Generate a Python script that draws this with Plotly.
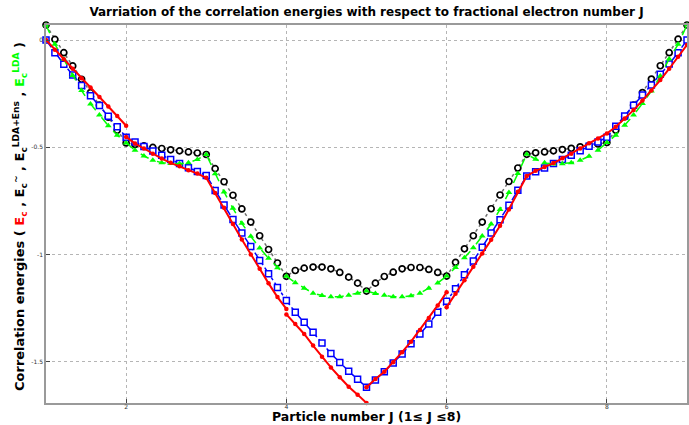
import numpy as np
import plotly.graph_objects as go

# Sampling grid: fractional particle number, 9 steps per unit between 1 and 9
J = np.linspace(1, 9, 73)

x_ticks = [2, 4, 6, 8]
x_tick_labels = ["2", "4", "6", "8"]
y_ticks = [0, -0.5, -1, -1.5]
y_tick_labels = ["0", "-0.5", "-1", "-1.5"]

# E_c^{LDA+Ens} (black circles)
E_lda_ens = [
    0.070, 0.003, -0.059, -0.121, -0.183, -0.245, -0.304, -0.360, -0.421, -0.480,
    -0.487, -0.494, -0.501, -0.506, -0.512, -0.517, -0.522, -0.527, -0.534,
    -0.600, -0.661, -0.724, -0.788, -0.849, -0.913, -0.977, -1.040, -1.102,
    -1.075, -1.064, -1.059, -1.059, -1.067, -1.084, -1.106, -1.134, -1.171,
    -1.134, -1.103, -1.083, -1.067, -1.061, -1.061, -1.070, -1.084, -1.101,
    -1.037, -0.974, -0.913, -0.849, -0.787, -0.723, -0.660, -0.597, -0.533,
    -0.526, -0.522, -0.517, -0.511, -0.505, -0.498, -0.492, -0.485, -0.478,
    -0.421, -0.358, -0.304, -0.245, -0.182, -0.120, -0.059, 0.004, 0.070,
]

# tilde E_c (blue squares)
E_tilde = [
    0.000, -0.059, -0.113, -0.163, -0.212, -0.260, -0.306, -0.356, -0.404, -0.453,
    -0.476, -0.497, -0.518, -0.537, -0.557, -0.576, -0.596, -0.613, -0.632,
    -0.702, -0.770, -0.837, -0.900, -0.963, -1.028, -1.090, -1.154, -1.215,
    -1.270, -1.316, -1.363, -1.413, -1.462, -1.504, -1.545, -1.582, -1.620,
    -1.586, -1.547, -1.506, -1.464, -1.417, -1.371, -1.324, -1.270, -1.218,
    -1.160, -1.095, -1.031, -0.966, -0.900, -0.838, -0.771, -0.701, -0.634,
    -0.615, -0.597, -0.576, -0.557, -0.537, -0.517, -0.495, -0.476, -0.453,
    -0.402, -0.355, -0.304, -0.257, -0.210, -0.160, -0.112, -0.059, 0.000,
]

# E_c^{LDA} (green triangles)
E_lda = [
    0.070, -0.020, -0.090, -0.165, -0.236, -0.298, -0.350, -0.400, -0.444, -0.480,
    -0.514, -0.541, -0.561, -0.572, -0.576, -0.577, -0.572, -0.557, -0.534,
    -0.624, -0.709, -0.785, -0.855, -0.915, -0.970, -1.018, -1.062, -1.102,
    -1.132, -1.158, -1.181, -1.192, -1.198, -1.198, -1.190, -1.181, -1.171,
    -1.182, -1.190, -1.198, -1.198, -1.193, -1.181, -1.158, -1.133, -1.101,
    -1.061, -1.016, -0.969, -0.914, -0.858, -0.790, -0.711, -0.623, -0.533,
    -0.556, -0.573, -0.578, -0.577, -0.573, -0.561, -0.542, -0.514, -0.478,
    -0.444, -0.397, -0.350, -0.296, -0.238, -0.168, -0.088, -0.020, 0.070,
]

# Exact E_c (red), piecewise: (first grid index, values)
E_exact_segments = [
    (0, [0.000, -0.045, -0.090, -0.134, -0.178, -0.222, -0.266, -0.310, -0.355, -0.400]),
    (9, [-0.452, -0.483, -0.506, -0.530, -0.553, -0.573, -0.589, -0.607, -0.623, -0.643,
         -0.713, -0.782, -0.858, -0.930, -1.000, -1.067, -1.135, -1.199, -1.254]),
    (27, [-1.280, -1.324, -1.371, -1.425, -1.477, -1.527, -1.573, -1.617, -1.654, -1.693]),
    (36, [-1.620, -1.581, -1.547, -1.503, -1.456, -1.407, -1.352, -1.296, -1.238, -1.176]),
    (45, [-1.246, -1.184, -1.120, -1.058, -0.996, -0.932, -0.866, -0.790, -0.708, -0.634,
          -0.610, -0.592, -0.574, -0.552, -0.530, -0.506, -0.482, -0.459, -0.436,
          -0.405, -0.366, -0.327, -0.282, -0.235, -0.187, -0.134, -0.078, -0.023]),
]

red_x, red_y = [], []
for start, vals in E_exact_segments:
    red_x += list(J[start:start + len(vals)]) + [None]
    red_y += list(vals) + [None]

fig = go.Figure()

fig.add_trace(go.Scatter(
    x=J, y=E_lda_ens, mode="lines+markers",
    line=dict(color="rgb(110,110,110)", width=1.5, dash="dot"),
    marker=dict(symbol="circle", size=6, color="white",
                line=dict(color="black", width=1.7)),
    cliponaxis=False,
))
fig.add_trace(go.Scatter(
    x=J, y=E_tilde, mode="lines+markers",
    line=dict(color="#0000ff", width=1.5, dash="dashdot"),
    marker=dict(symbol="square", size=6, color="white",
                line=dict(color="#0000ff", width=1.5)),
    cliponaxis=False,
))
fig.add_trace(go.Scatter(
    x=J, y=E_lda, mode="lines+markers",
    line=dict(color="#00ff00", width=1.5, dash="dash"),
    marker=dict(symbol="triangle-up", size=6, color="#00ff00",
                line=dict(width=0)),
    cliponaxis=False,
))
fig.add_trace(go.Scatter(
    x=red_x, y=red_y, mode="lines+markers", connectgaps=False,
    line=dict(color="#ff0000", width=2),
    marker=dict(symbol="circle", size=4.5, color="#ff0000"),
    cliponaxis=False,
))

all_vals = E_lda_ens + E_tilde + E_lda + [v for _, s in E_exact_segments for v in s]
y_lo, y_hi = min(all_vals), max(all_vals)

axis_style = dict(
    showline=True, linecolor="#9a9a9a", linewidth=1.5, mirror=True,
    ticks="inside", ticklen=4, tickcolor="#444", tickwidth=1,
    showgrid=True, gridcolor="#b5b5b5", griddash="dot", gridwidth=1,
    zeroline=False, tickfont=dict(family="DejaVu Sans", size=6, color="#333"),
)

MARGIN_B = 22
fig.update_layout(
    width=689, height=425,
    margin=dict(l=46, r=0, t=25, b=MARGIN_B),
    paper_bgcolor="white", plot_bgcolor="white",
    showlegend=False,
    title=dict(
        text="<b>Varriation of the correlation energies with respect to fractional electron number J</b>",
        font=dict(family="DejaVu Sans", size=12, color="black"),
        x=0.5, xref="paper", xanchor="center",
        y=1 - 12 / 425, yref="container", yanchor="middle",
    ),
    xaxis=dict(range=[1, 9], tickvals=x_ticks, ticktext=x_tick_labels,
               ticklabelstandoff=-3, **axis_style),
    yaxis=dict(range=[y_lo, y_hi], tickvals=y_ticks, ticktext=y_tick_labels, **axis_style),
)

# x-axis title sits on the bottom edge of the page
fig.add_annotation(
    text="<b>Particle number J (1≤ J ≤8)</b>",
    xref="paper", yref="paper", x=0.5, y=0, xanchor="center", yanchor="bottom",
    yshift=-MARGIN_B, showarrow=False, borderpad=0,
    font=dict(family="DejaVu Sans", size=12.5, color="black"),
)

ylabel = (
    "<b>Correlation energies ( "
    "<span style='color:#ff0000'>E<sub>c</sub></span> , "
    "E<sub>c</sub><sup>~</sup> , "
    "E<sub>c</sub><sup>LDA+Ens</sup> , "
    "<span style='color:#00ff00'>E<sub>c</sub><sup>LDA</sup></span> )</b>"
)
fig.add_annotation(
    text=ylabel, textangle=-90,
    xref="paper", yref="paper", x=0, y=0.5, xanchor="center", yanchor="middle",
    xshift=-26, yshift=-3, showarrow=False,
    font=dict(family="DejaVu Sans", size=13, color="black"),
)

fig.write_html("out.html")
